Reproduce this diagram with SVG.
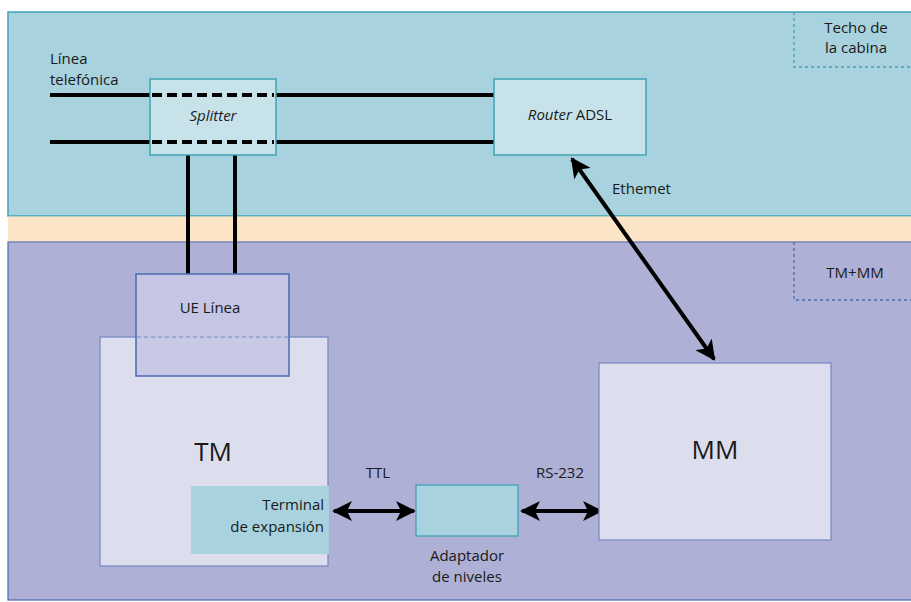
<svg xmlns="http://www.w3.org/2000/svg" width="911" height="602" viewBox="0 0 911 602">
  <style>
    .t { font-family: "Open Sans", "Liberation Sans", sans-serif; font-size: 15px; fill: #1a1a1a; }
    .big { font-size: 26px; }
    .it { font-style: italic; }
    .wire { stroke: #000; stroke-width: 4; fill: none; }
    .dash { stroke: #000; stroke-width: 4; stroke-dasharray: 10 5; fill: none; }
    .conn { stroke: #000; stroke-width: 4; fill: none; marker-start: url(#head); marker-end: url(#head); }
    .zone { fill: none; stroke-width: 1.3; stroke-dasharray: 3 3; }
  </style>
  <defs>
    <marker id="head" viewBox="0 0 10 10" refX="9" refY="5" markerWidth="5" markerHeight="5" markerUnits="strokeWidth" orient="auto-start-reverse">
      <path d="M0,0 L10,5 L0,10 L2.5,5 Z" fill="#000"/>
    </marker>
  </defs>

  <!-- background zones -->
  <rect x="0" y="0" width="911" height="602" fill="#ffffff"/>
  <rect x="8" y="12" width="910" height="204" fill="#a8d2de" stroke="#3fa3b5" stroke-width="1.5"/>
  <rect x="8" y="216.5" width="910" height="25" fill="#fbe5c6"/>
  <rect x="8" y="242" width="910" height="358" fill="#aeb0d6" stroke="#4a6ab0" stroke-width="1.2"/>
  <line x1="8" y1="242" x2="911" y2="242" stroke="#9a9ab8" stroke-width="1.2"/>

  <g id="zone-techo">
    <polyline class="zone" points="794,12 794,67 911,67" stroke="#3fa3b5"/>
    <text class="t" x="856" y="33" text-anchor="middle">Techo de</text>
    <text class="t" x="856" y="53" text-anchor="middle">la cabina</text>
  </g>
  <g id="zone-tmmm">
    <polyline class="zone" points="794,242 794,300 911,300" stroke="#4a6ab0"/>
    <text class="t" x="855" y="278" text-anchor="middle">TM+MM</text>
  </g>

  <g id="linea-label">
    <text class="t" x="50" y="64">Línea</text>
    <text class="t" x="50" y="85">telefónica</text>
  </g>

  <!-- connectors -->
  <g id="connectors">
    <line class="wire" x1="50" y1="95" x2="151" y2="95"/>
    <line class="wire" x1="275" y1="95" x2="494" y2="95"/>
    <line class="wire" x1="50" y1="142" x2="151" y2="142"/>
    <line class="wire" x1="275" y1="142" x2="494" y2="142"/>
    <line class="wire" x1="188" y1="155" x2="188" y2="274" stroke-width="3.5"/>
    <line class="wire" x1="235" y1="155" x2="235" y2="274" stroke-width="3.5"/>
    <line class="conn" x1="572" y1="159" x2="714" y2="359"/>
    <line class="conn" x1="334" y1="511" x2="414" y2="511"/>
    <line class="conn" x1="522" y1="511" x2="601" y2="511"/>
    <text class="t" x="612" y="194">Ethemet</text>
    <text class="t" x="378" y="478" text-anchor="middle">TTL</text>
    <text class="t" x="560" y="478" text-anchor="middle">RS-232</text>
  </g>

  <g id="splitter">
    <rect x="150" y="79" width="126" height="76" fill="#c8e2ea" stroke="#3fa3b5" stroke-width="1.5"/>
    <line class="dash" x1="152" y1="95" x2="274" y2="95"/>
    <line class="dash" x1="152" y1="142" x2="274" y2="142"/>
    <text class="t it" x="213" y="121" text-anchor="middle">Splitter</text>
  </g>

  <g id="router">
    <rect x="494" y="79" width="152" height="76" fill="#c8e2ea" stroke="#3fa3b5" stroke-width="1.5"/>
    <text class="t" x="570" y="120" text-anchor="middle"><tspan class="it">Router</tspan> ADSL</text>
  </g>

  <g id="tm">
    <rect x="100" y="337" width="228" height="229" fill="#dddeed" stroke="#7a8cc4" stroke-width="1.3"/>
    <text class="t big" x="213" y="461" text-anchor="middle">TM</text>
  </g>

  <g id="ue-linea">
    <rect x="136" y="274" width="153" height="102" fill="#c6c8e4" fill-opacity="0.92" stroke="#4a6ab0" stroke-width="1.5"/>
    <line x1="137" y1="337" x2="288" y2="337" stroke="#7a8cc4" stroke-width="1.2" stroke-dasharray="4 3"/>
    <text class="t" x="210" y="313" text-anchor="middle">UE Línea</text>
  </g>

  <g id="terminal">
    <rect x="191" y="486" width="138" height="68" fill="#a8d2de"/>
    <text class="t" x="324" y="510" text-anchor="end">Terminal</text>
    <text class="t" x="324" y="532" text-anchor="end">de expansión</text>
  </g>

  <g id="adaptador">
    <rect x="416" y="485" width="102" height="51" fill="#a8d2de" stroke="#3fa3b5" stroke-width="1.3"/>
    <text class="t" x="467" y="561" text-anchor="middle">Adaptador</text>
    <text class="t" x="467" y="582" text-anchor="middle">de niveles</text>
  </g>

  <g id="mm">
    <rect x="599" y="363" width="232" height="177" fill="#dddeed" stroke="#7a8cc4" stroke-width="1.3"/>
    <text class="t big" x="715" y="459" text-anchor="middle">MM</text>
  </g>
</svg>
